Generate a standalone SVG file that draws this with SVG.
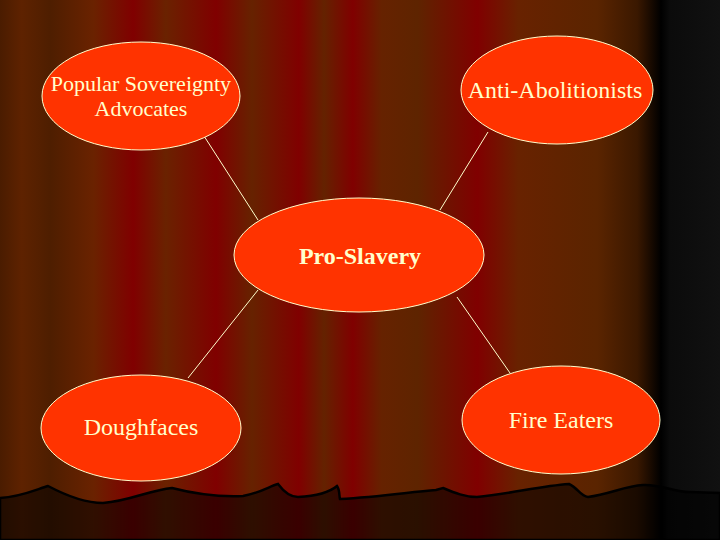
<svg xmlns="http://www.w3.org/2000/svg" width="720" height="540" viewBox="0 0 720 540">
<defs>
<linearGradient id="curtain" x1="0" y1="0" x2="720" y2="0" gradientUnits="userSpaceOnUse">
<stop offset="0" stop-color="#4a1c00"/>
<stop offset="0.03" stop-color="#5e2200"/>
<stop offset="0.07" stop-color="#4e1e00"/>
<stop offset="0.13" stop-color="#6a2200"/>
<stop offset="0.185" stop-color="#800000"/>
<stop offset="0.23" stop-color="#6a2200"/>
<stop offset="0.30" stop-color="#800000"/>
<stop offset="0.35" stop-color="#662200"/>
<stop offset="0.415" stop-color="#800000"/>
<stop offset="0.45" stop-color="#642200"/>
<stop offset="0.49" stop-color="#800000"/>
<stop offset="0.53" stop-color="#662200"/>
<stop offset="0.58" stop-color="#5e2400"/>
<stop offset="0.663" stop-color="#800000"/>
<stop offset="0.72" stop-color="#682200"/>
<stop offset="0.83" stop-color="#5a2400"/>
<stop offset="0.885" stop-color="#3a1800"/>
<stop offset="0.918" stop-color="#000000"/>
<stop offset="0.93" stop-color="#0b0b0b"/>
<stop offset="1" stop-color="#111111"/>
</linearGradient>
<style>
.node ellipse{fill:#ff3300;stroke:#ffffcc;stroke-width:1}
.node text{fill:#ffffcc;font-family:"Liberation Serif","Times New Roman",serif;font-size:24px;text-anchor:middle}
.conn line{stroke:#ffffcc;stroke-width:1}
</style>
</defs>
<rect x="0" y="0" width="720" height="540" fill="url(#curtain)"/>
<path d="M0,498 C20,497 35,490 48,486 C65,495 85,503 103,503 C130,501 150,490 172,488 C195,494 220,497 243,496 C260,493 270,486 278,484 C284,492 290,497 298,497 C315,496 330,492 337,486 C340,490 339,496 340,499 C380,497 410,492 436,490 L443,488 C455,493 465,497 477,497 C510,494 540,486 569,484 C578,488 580,496 588,497 C610,494 625,486 643,485 C660,484 675,492 689,492 L720,493 L720,540 L0,540 Z" fill="#000000" fill-opacity="0.55" stroke="#000000" stroke-width="2.5"/>
<g class="conn">
<line x1="204" y1="136" x2="258" y2="220"/>
<line x1="488" y1="132" x2="440" y2="210"/>
<line x1="258" y1="290" x2="188" y2="378"/>
<line x1="457" y1="297" x2="510" y2="373"/>
</g>
<g id="popular" class="node">
<ellipse cx="141" cy="96" rx="99" ry="54"/>
<text x="141" y="91" style="font-size:22px">Popular Sovereignty</text>
<text x="141" y="116" style="font-size:22px">Advocates</text>
</g>
<g id="anti" class="node">
<ellipse cx="557" cy="90" rx="96" ry="54"/>
<text x="555" y="98">Anti-Abolitionists</text>
</g>
<g id="pro" class="node">
<ellipse cx="359" cy="255" rx="125" ry="57"/>
<text x="360" y="264" font-weight="bold">Pro-Slavery</text>
</g>
<g id="dough" class="node">
<ellipse cx="141" cy="428" rx="100" ry="53"/>
<text x="141" y="435">Doughfaces</text>
</g>
<g id="fire" class="node">
<ellipse cx="561" cy="420" rx="99" ry="54"/>
<text x="561" y="428">Fire Eaters</text>
</g>
</svg>
